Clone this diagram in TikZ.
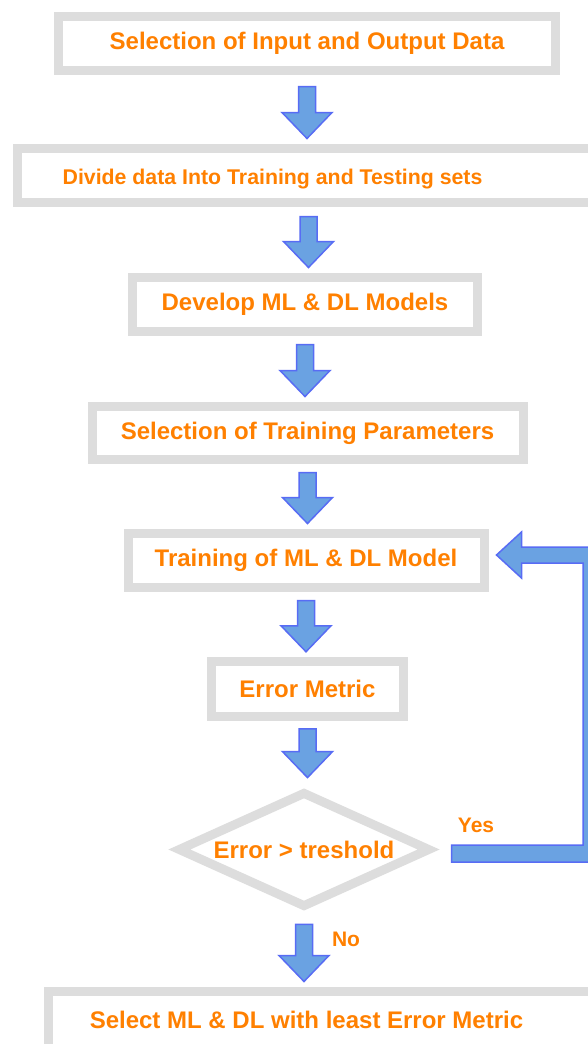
\documentclass[tikz,border=0pt]{standalone}
\usepackage{fontspec}
\setmainfont{Liberation Sans}
\usetikzlibrary{shapes.geometric,calc}
\definecolor{boxgray}{RGB}{221,221,221}
\definecolor{txtorange}{RGB}{255,128,0}
\definecolor{arrfill}{RGB}{106,162,226}
\definecolor{arrline}{RGB}{88,108,244}
\tikzset{
  box/.style={draw=boxgray, line width=9pt, fill=white, inner sep=0pt,
    text=txtorange, font=\fontsize{24}{28}\selectfont\bfseries},
  lbl/.style={text=txtorange, font=\fontsize{24}{28}\selectfont\bfseries, inner sep=0pt},
  smalllbl/.style={text=txtorange, font=\fontsize{21}{25}\selectfont\bfseries, inner sep=0pt},
  barrow/.style={fill=arrfill, draw=arrline, line width=1.5pt, line join=miter},
}
% vertical block arrow: source, target, gap below source, gap above target
\newcommand\varrow[4]{%
  \draw[barrow] let \p1=(#1.south), \p2=(#2.north) in
    (\x1-8.5pt,\y1-#3) -- (\x1+8.5pt,\y1-#3) -- (\x1+8.5pt,\y2+#4+26pt)
    -- (\x1+25pt,\y2+#4+26pt) -- (\x1,\y2+#4) -- (\x1-25pt,\y2+#4+26pt)
    -- (\x1-8.5pt,\y2+#4+26pt) -- cycle;}
\begin{document}
\begin{tikzpicture}[x=1pt,y=-1pt]
\useasboundingbox (0,0) rectangle (587,1044);
\fill[white] (0,0) rectangle (587,1044);

\node[box, minimum width=497pt, minimum height=54pt] (b1) at (307,43.5) {Selection of Input and Output Data};
\node[box, minimum width=583pt, minimum height=54pt] (b2) at (308.5,175.5) {};
\node[lbl, anchor=base, font=\fontsize{21.3}{26}\selectfont\bfseries] (t2) at (272.5,184) {Divide data Into Training and Testing sets};
\node[box, minimum width=345pt, minimum height=54pt] (b3) at (305,304.5) {Develop ML \& DL Models};
\node[box, minimum width=431pt, minimum height=53pt] (b4) at (307.5,433) {Selection of Training Parameters};
\node[box, minimum width=356pt, minimum height=54pt] (b5) at (306,560.5) {Training of ML \& DL Model};
\node[box, minimum width=192pt, minimum height=54.5pt] (b6) at (307.5,689) {Error Metric};
\node[box, diamond, minimum width=253pt, minimum height=116pt, shape aspect=2.18] (d) at (304,849.5) {Error > treshold};
\node[box, minimum width=571.5pt, minimum height=68.5pt] (b8) at (334,1025.75) {};
\node[lbl, anchor=base] (t8) at (306.5,1028) {Select ML \& DL with least Error Metric};

\varrow{b1}{b2}{11.5pt}{5.5pt}
\varrow{b2}{b3}{9.5pt}{5.5pt}
\varrow{b3}{b4}{8.5pt}{5.5pt}
\varrow{b4}{b5}{8.5pt}{5.5pt}
\varrow{b5}{b6}{8.5pt}{5.5pt}
\varrow{b6}{d}{8pt}{9.4pt}
\varrow{d}{b8}{12.4pt}{5.5pt}

% feedback arrow (Yes)
\draw[barrow] let \p1=(d.east), \p2=(b5.east) in
  (\x1+16.6pt,\y1+4.5pt) -- (583pt,\y1+4.5pt) -- (583pt,\y2-2.5pt)
  -- (\x2+33pt,\y2-2.5pt) -- (\x2+33pt,\y2-17.5pt) -- (\x2+8pt,\y2+5.5pt)
  -- (\x2+33pt,\y2+28.5pt) -- (\x2+33pt,\y2+13.5pt) -- (600pt,\y2+13.5pt)
  -- (600pt,\y1-12.5pt) -- (\x1+16.6pt,\y1-12.5pt) -- cycle;

\node[smalllbl, anchor=base] (yes) at (476,832) {Yes};
\node[smalllbl, anchor=base] (no) at (346,946) {No};
\end{tikzpicture}
\end{document}
